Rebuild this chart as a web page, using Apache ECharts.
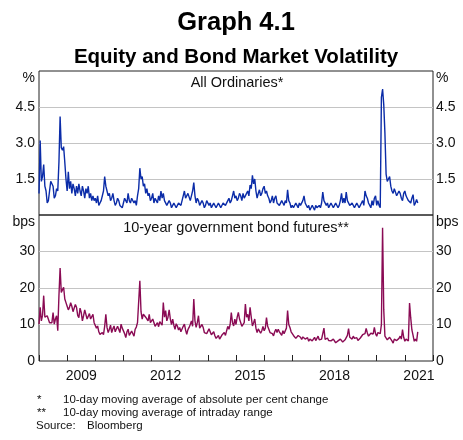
<!DOCTYPE html>
<html>
<head>
<meta charset="utf-8">
<script src="https://cdn.jsdelivr.net/npm/echarts@6/dist/echarts.min.js"></script>
<style>
  html, body { margin: 0; padding: 0; background: #fff; }
  #chart { width: 463px; height: 440px; }
</style>
</head>
<body>
<div id="chart"></div>
<script>
  // half-monthly samples (1st and mid-month), Jan 2008 - Jun 2021
  var startYear = 2008;
  var perYear = 24;

  // All Ordinaries, 10-day MA of absolute % change
  var equityVol = [
    0.9, 3.1, 1.4, 1.6, 2.1, 1.2, 1.0, 0.5, 0.6, 1.0, 1.4, 1.3, 1.2, 0.7, 0.8, 1.1, 1.0, 2.2, 4.1, 2.8, 2.7, 2.85, 2.2, 1.5,   // 2008
    1.0, 1.8, 1.1, 1.4, 0.9, 1.3, 1.1, 0.8, 1.2, 0.9, 1.3, 1.0, 0.8, 1.2, 1.0, 0.7, 1.1, 0.9, 1.2, 0.7, 0.9, 0.6, 0.8, 0.6,    // 2009
    0.7, 0.5, 0.8, 0.4, 0.5, 0.6, 0.6, 1.0, 1.6, 1.2, 1.0, 0.8, 0.9, 0.6, 0.7, 0.9, 0.6, 0.4, 0.5, 0.7, 0.6, 0.4, 0.4, 0.3,    // 2010
    0.5, 0.7, 0.6, 0.5, 0.9, 0.6, 0.5, 0.7, 0.7, 0.5, 0.6, 0.4, 0.8, 1.1, 1.95, 1.5, 1.6, 1.2, 1.3, 0.9, 1.1, 0.8, 0.9, 0.6,   // 2011
    0.7, 0.9, 0.5, 0.7, 0.6, 0.5, 0.8, 0.6, 1.0, 0.7, 0.9, 0.6, 0.6, 0.4, 0.4, 0.6, 0.5, 0.3, 0.4, 0.5, 0.5, 0.3, 0.4, 0.5,    // 2012
    0.5, 0.4, 0.6, 0.8, 1.0, 0.7, 0.7, 0.9, 0.9, 0.6, 0.8, 1.0, 1.35, 0.8, 0.5, 0.7, 0.6, 0.4, 0.4, 0.6, 0.5, 0.3, 0.4, 0.6,   // 2013
    0.6, 0.4, 0.5, 0.3, 0.4, 0.5, 0.5, 0.3, 0.3, 0.5, 0.4, 0.3, 0.3, 0.5, 0.5, 0.4, 0.4, 0.6, 0.7, 0.5, 0.6, 0.8, 1.0, 0.7,    // 2014
    0.8, 0.6, 0.7, 0.9, 0.8, 0.6, 0.9, 0.7, 0.7, 0.9, 1.0, 0.8, 1.25, 1.1, 1.65, 1.3, 1.5, 1.0, 0.7, 0.9, 1.05, 0.8, 0.9, 1.1, // 2015
    1.2, 0.9, 1.0, 0.8, 0.7, 0.5, 0.6, 0.8, 0.5, 0.7, 0.8, 0.5, 0.5, 0.4, 0.4, 0.6, 0.5, 0.4, 0.6, 0.5, 1.05, 0.6, 0.5, 0.3,   // 2016
    0.4, 0.3, 0.3, 0.5, 0.4, 0.3, 0.5, 0.4, 0.4, 0.6, 0.8, 0.5, 0.5, 0.3, 0.4, 0.2, 0.3, 0.4, 0.3, 0.2, 0.4, 0.3, 0.3, 0.4,    // 2017
    0.3, 0.5, 0.95, 0.6, 0.6, 0.4, 0.5, 0.3, 0.4, 0.5, 0.5, 0.3, 0.4, 0.5, 0.5, 0.3, 0.4, 0.6, 0.9, 0.5, 0.7, 0.5, 0.95, 0.6,  // 2018
    0.6, 0.4, 0.4, 0.5, 0.5, 0.3, 0.4, 0.5, 0.5, 0.3, 0.4, 0.5, 0.6, 0.4, 1.0, 0.8, 0.7, 0.5, 0.5, 0.3, 0.6, 0.4, 0.7, 0.8,    // 2019
    0.4, 0.6, 0.4, 0.3, 4.9, 5.25, 4.6, 3.4, 1.7, 1.4, 1.5, 1.6, 1.2, 1.0, 0.9, 1.1, 1.1, 0.8, 0.8, 1.0, 0.9, 0.7, 0.6, 0.9,  // 2020
    1.0, 0.8, 0.7, 0.6, 0.6, 0.5, 0.7, 0.85, 0.4, 0.5, 0.65, 0.5                                                            // 2021
  ];

  // 10-year bond futures, 10-day MA of intraday range (bps)
  var bondVol = [
    10.1, 14.7, 11.0, 12.5, 17.9, 12.0, 11.5, 12.4, 12.0, 10.5, 11.0, 10.5, 13.3, 10.1, 11.5, 12.4, 8.3, 17.9, 25.5, 18.8, 18.8, 20.2, 17.0, 16.0, // 2008
    15.0, 14.0, 14.7, 16.0, 15.0, 13.5, 13.8, 15.5, 14.7, 12.5, 11.9, 14.5, 13.3, 11.0, 12.4, 14.0, 14.2, 11.5, 11.9, 13.0, 11.5, 12.0, 12.8, 10.5, // 2009
    11.0, 9.0, 9.6, 8.0, 7.3, 7.8, 7.8, 7.2, 9.5, 12.8, 9.2, 7.8, 8.7, 9.8, 7.8, 8.8, 9.6, 8.0, 8.5, 9.5, 8.7, 7.8, 10.1, 9.0,               // 2010
    9.2, 7.5, 6.4, 8.0, 8.7, 7.0, 7.3, 8.2, 7.8, 6.8, 8.7, 9.3, 10.5, 11.0, 22.0, 13.5, 11.5, 12.8, 13.3, 12.0, 12.4, 11.0, 12.8, 10.5,     // 2011
    10.1, 11.5, 11.0, 9.5, 9.6, 10.5, 9.4, 10.8, 10.5, 9.8, 16.0, 12.0, 13.8, 11.0, 12.0, 14.0, 11.5, 10.0, 11.5, 9.8, 8.7, 10.2, 9.6, 8.5,  // 2012
    9.2, 8.0, 8.3, 9.5, 10.1, 8.5, 7.3, 8.6, 9.2, 10.0, 11.0, 9.5, 17.0, 11.0, 9.2, 10.5, 12.4, 9.0, 8.7, 10.0, 9.2, 7.8, 8.3, 7.5,          // 2013
    7.8, 8.8, 8.3, 7.2, 7.3, 8.0, 6.9, 6.2, 6.4, 7.0, 6.0, 6.5, 7.1, 6.6, 7.8, 7.0, 8.3, 9.5, 8.7, 10.0, 13.3, 10.5, 9.6, 11.5,             // 2014
    10.0, 12.0, 13.3, 11.5, 11.0, 9.5, 9.2, 10.5, 15.6, 12.0, 12.8, 11.0, 14.7, 12.0, 9.6, 10.5, 11.5, 9.0, 7.8, 8.8, 8.7, 7.6, 8.3, 9.5,   // 2015
    8.3, 9.0, 11.9, 9.5, 8.7, 7.8, 8.3, 7.5, 6.9, 8.0, 8.7, 7.8, 8.7, 8.0, 7.8, 7.0, 8.3, 7.5, 7.8, 9.0, 13.8, 10.0, 9.2, 8.0,              // 2016
    8.0, 7.0, 7.3, 6.2, 6.4, 7.0, 7.2, 6.5, 5.9, 6.6, 6.8, 6.0, 5.9, 6.4, 5.4, 6.0, 6.3, 5.5, 5.9, 6.5, 5.6, 6.2, 6.8, 5.8,                 // 2017
    5.4, 6.0, 6.5, 9.0, 5.9, 6.4, 6.3, 5.6, 6.0, 5.5, 5.4, 6.0, 5.6, 5.0, 4.9, 5.5, 5.4, 6.0, 5.9, 5.2, 5.0, 5.8, 6.3, 7.0,                 // 2018
    8.9, 6.5, 6.3, 6.0, 6.8, 6.2, 5.9, 6.4, 5.6, 6.1, 6.3, 6.8, 7.2, 6.8, 7.5, 8.9, 7.7, 6.8, 7.0, 7.6, 8.1, 7.4, 9.2, 7.5,                 // 2019
    6.8, 7.8, 8.1, 7.5, 10.0, 36.5, 14.0, 6.8, 6.8, 5.8, 5.9, 6.5, 6.6, 5.5, 4.9, 6.0, 6.3, 5.6, 5.4, 6.2, 6.8, 6.0, 8.6, 6.5,              // 2020
    5.4, 6.0, 6.3, 5.5, 15.9, 11.8, 8.5, 7.0, 5.4, 6.0, 5.4, 8.0                                                                           // 2021
  ];

  var yearCats = ['2008', '2009', '2010', '2011', '2012', '2013', '2014',
                  '2015', '2016', '2017', '2018', '2019', '2020', '2021'];
  var labelledYears = ['2009', '2012', '2015', '2018', '2021'];

  var font = 'Liberation Sans, Arial, sans-serif';
  var ink = '#111';

  function toPairs(vals) {
    return vals.map(function (v, i) { return [startYear + i / perYear, v]; });
  }

  var chart = echarts.init(document.getElementById('chart'));

  var plainX = {
    type: 'value', min: 2008, max: 2022, interval: 1,
    axisLine: {show: false}, axisLabel: {show: false}, splitLine: {show: false}
  };

  function yAxis(grid, pos, max, step, fmt, gridLines) {
    return {
      type: 'value', gridIndex: grid, position: pos, min: 0, max: max, interval: step,
      axisLine: {show: false}, axisTick: {show: false},
      axisLabel: {
        color: ink, fontSize: 14, fontFamily: font, margin: pos === 'left' ? 4 : 3,
        formatter: fmt
      },
      splitLine: {
        show: gridLines, showMinLine: false, showMaxLine: false,
        lineStyle: {color: '#c4c4c4', width: 1}
      }
    };
  }

  var pctFmt = function (v) { return (v === 0 || v === 6) ? '' : v.toFixed(1); };
  var bpsFmt = function (v) { return v === 40 ? '' : String(v); };

  var option = {
    animation: false,
    backgroundColor: '#fff',
    textStyle: {fontFamily: font},
    grid: [
      {left: 39, right: 30, top: 71, height: 144, show: true, borderColor: '#222', borderWidth: 1},
      {left: 39, right: 30, top: 215, height: 146, show: true, borderColor: '#222', borderWidth: 1}
    ],
    xAxis: [
      Object.assign({gridIndex: 0, axisTick: {show: false}}, plainX),
      Object.assign({gridIndex: 1, axisTick: {show: true, inside: true, length: 6, lineStyle: {color: '#222'}}}, plainX),
      {
        type: 'category', gridIndex: 1, data: yearCats, boundaryGap: true, position: 'bottom',
        axisLine: {show: false}, axisTick: {show: false}, splitLine: {show: false},
        axisLabel: {
          interval: 0, color: ink, fontSize: 14, fontFamily: font, margin: 8,
          formatter: function (v) { return labelledYears.indexOf(v) >= 0 ? v : ''; }
        }
      }
    ],
    yAxis: [
      yAxis(0, 'left', 6, 1.5, pctFmt, true),
      yAxis(0, 'right', 6, 1.5, pctFmt, false),
      yAxis(1, 'left', 40, 10, bpsFmt, true),
      yAxis(1, 'right', 40, 10, bpsFmt, false)
    ],
    series: [
      {
        type: 'line', xAxisIndex: 0, yAxisIndex: 0, data: toPairs(equityVol),
        showSymbol: false, lineStyle: {color: '#0b2ca8', width: 1.4}
      },
      {
        type: 'line', xAxisIndex: 1, yAxisIndex: 2, data: toPairs(bondVol),
        showSymbol: false, lineStyle: {color: '#8a0b54', width: 1.4}
      }
    ],
    graphic: [
      {type: 'text', x: 236, y: 22.5, style: {text: 'Graph 4.1', font: 'bold 25.5px ' + font, fill: '#000', align: 'center', verticalAlign: 'middle'}},
      {type: 'text', x: 236, y: 57, style: {text: 'Equity and Bond Market Volatility', font: 'bold 20.5px ' + font, fill: '#000', align: 'center', verticalAlign: 'middle'}},
      {type: 'text', x: 237, y: 83, style: {text: 'All Ordinaries*', font: '14.5px ' + font, fill: ink, align: 'center', verticalAlign: 'middle'}},
      {type: 'text', x: 236, y: 227.5, style: {text: '10-year government bond futures**', font: '14.5px ' + font, fill: ink, align: 'center', verticalAlign: 'middle'}},
      {type: 'text', x: 35, y: 78.5, style: {text: '%', font: '14px ' + font, fill: ink, align: 'right', verticalAlign: 'middle'}},
      {type: 'text', x: 436, y: 78.5, style: {text: '%', font: '14px ' + font, fill: ink, align: 'left', verticalAlign: 'middle'}},
      {type: 'text', x: 35, y: 222.5, style: {text: 'bps', font: '14px ' + font, fill: ink, align: 'right', verticalAlign: 'middle'}},
      {type: 'text', x: 436, y: 222.5, style: {text: 'bps', font: '14px ' + font, fill: ink, align: 'left', verticalAlign: 'middle'}},
      {type: 'text', x: 37, y: 400, style: {text: '*', font: '11.5px ' + font, fill: ink, verticalAlign: 'middle'}},
      {type: 'text', x: 63, y: 400, style: {text: '10-day moving average of absolute per cent change', font: '11.5px ' + font, fill: ink, verticalAlign: 'middle'}},
      {type: 'text', x: 37, y: 413, style: {text: '**', font: '11.5px ' + font, fill: ink, verticalAlign: 'middle'}},
      {type: 'text', x: 63, y: 413, style: {text: '10-day moving average of intraday range', font: '11.5px ' + font, fill: ink, verticalAlign: 'middle'}},
      {type: 'text', x: 36, y: 426, style: {text: 'Source:', font: '11.5px ' + font, fill: ink, verticalAlign: 'middle'}},
      {type: 'text', x: 87, y: 426, style: {text: 'Bloomberg', font: '11.5px ' + font, fill: ink, verticalAlign: 'middle'}}
    ]
  };

  chart.setOption(option);
</script>
</body>
</html>
